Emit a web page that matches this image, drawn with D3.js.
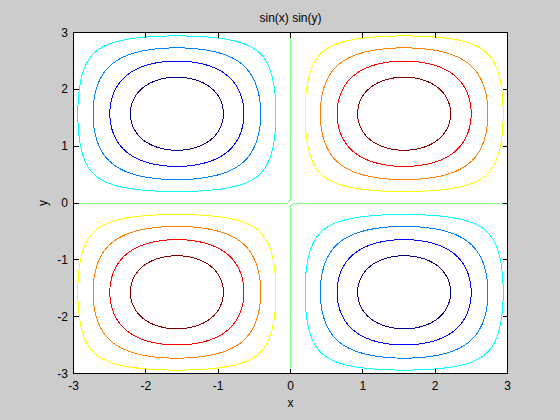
<!DOCTYPE html>
<html>
<head>
<meta charset="utf-8">
<script src="https://cdn.jsdelivr.net/npm/d3@7"></script>
<style>
body { margin: 0; background: #cccccc; }
text { font-family: "Liberation Sans", Arial, sans-serif; fill: #000; }
</style>
</head>
<body>
<svg width="560" height="420"></svg>
<script>
// contour levels and their colours (jet, caxis = level range)
var levels = [-0.8, -0.6, -0.4, -0.2, 0, 0.2, 0.4, 0.6, 0.8];
var levelColors = ["#000080", "#0000ff", "#0080ff", "#00ffff", "#80ff80", "#ffff00", "#ff8000", "#ff0000", "#800000"];
var xTicks = [-3, -2, -1, 0, 1, 2, 3];
var yTicks = [-3, -2, -1, 0, 1, 2, 3];
var titleText = "sin(x) sin(y)";

// grid of z = sin(x) sin(y), as named in the title, x and y in [-3, 3]
var gridN = 121, gridStep = 0.05;
var gridX = d3.range(gridN).map(function(i) { return (i - 60) / 20; });
var gridY = gridX.slice();
var values = [];
gridY.forEach(function(y) {
    gridX.forEach(function(x) {
        values.push(Math.sin(x) * Math.sin(y));
    });
});

var svg = d3.select("svg");

var x = d3.scaleLinear().domain([-3, 3]).range([73.5, 507.5]);
var y = d3.scaleLinear().domain([-3, 3]).range([373.5, 32.5]);

svg.append("rect")
    .attr("x", x(-3)).attr("y", y(3))
    .attr("width", x(3) - x(-3)).attr("height", y(-3) - y(3))
    .attr("fill", "#fff");

svg.append("clipPath").attr("id", "plotclip")
    .append("rect")
    .attr("x", x(-3) - 0.5).attr("y", y(3) - 0.5)
    .attr("width", x(3) - x(-3) + 1).attr("height", y(-3) - y(3) + 1);

var contours = d3.contours().size([gridN, gridN]).thresholds(levels)(values);

// grid coords -> data coords (value k sits at k + 0.5)
function gx(g) { return gridX[0] + (g - 0.5) * gridStep; }
function gy(g) { return gridY[0] + (g - 0.5) * gridStep; }

// turn closed rings into open polylines, dropping the grid border
function ringLines(ring) {
    var lines = [], cur = [];
    ring.forEach(function(p) {
        var inside = p[0] > 0 && p[0] < gridN && p[1] > 0 && p[1] < gridN;
        if (inside) {
            cur.push([x(gx(p[0])), y(gy(p[1]))]);
        } else {
            if (cur.length > 1) lines.push(cur);
            cur = [];
        }
    });
    if (cur.length > 1) lines.push(cur);
    return lines;
}

var line = d3.line();
var plot = svg.append("g").attr("clip-path", "url(#plotclip)");

contours.forEach(function(c, i) {
    var lines = [];
    c.coordinates.forEach(function(poly) {
        poly.forEach(function(ring) {
            lines = lines.concat(ringLines(ring));
        });
    });
    plot.append("g")
        .selectAll("path")
        .data(lines)
        .enter()
        .append("path")
        .attr("d", function(d) { return line(d); })
        .attr("fill", "none")
        .attr("stroke", levelColors[i])
        .attr("stroke-width", 1)
        .attr("shape-rendering", "crispEdges");
});

// axes with inward ticks on all four sides
var tickLen = 5;
var ax = svg.append("g").attr("stroke", "#000").attr("stroke-width", 1).attr("shape-rendering", "crispEdges");
xTicks.forEach(function(t) {
    ax.append("line").attr("x1", x(t)).attr("x2", x(t)).attr("y1", y(-3)).attr("y2", y(-3) - tickLen);
    ax.append("line").attr("x1", x(t)).attr("x2", x(t)).attr("y1", y(3)).attr("y2", y(3) + tickLen);
});
yTicks.forEach(function(t) {
    ax.append("line").attr("y1", y(t)).attr("y2", y(t)).attr("x1", x(-3)).attr("x2", x(-3) + tickLen);
    ax.append("line").attr("y1", y(t)).attr("y2", y(t)).attr("x1", x(3)).attr("x2", x(3) - tickLen);
});
ax.append("rect")
    .attr("x", x(-3)).attr("y", y(3))
    .attr("width", x(3) - x(-3)).attr("height", y(-3) - y(3))
    .attr("fill", "none");

svg.append("g").selectAll("text")
    .data(xTicks)
    .enter()
    .append("text")
    .attr("x", function(d) { return x(d); })
    .attr("y", 390)
    .attr("text-anchor", "middle")
    .attr("font-size", 12)
    .text(function(d) { return d; });

svg.append("g").selectAll("text")
    .data(yTicks)
    .enter()
    .append("text")
    .attr("x", 68)
    .attr("y", function(d) { return y(d) + 4; })
    .attr("text-anchor", "end")
    .attr("font-size", 12)
    .text(function(d) { return d; });

svg.append("text")
    .attr("x", (x(-3) + x(3)) / 2)
    .attr("y", 22)
    .attr("text-anchor", "middle")
    .attr("font-size", 12)
    .text(titleText);

svg.append("text")
    .attr("x", (x(-3) + x(3)) / 2)
    .attr("y", 407)
    .attr("text-anchor", "middle")
    .attr("font-size", 12)
    .text("x");

svg.append("text")
    .attr("transform", "translate(47," + y(0) + ") rotate(-90)")
    .attr("text-anchor", "middle")
    .attr("font-size", 12)
    .text("y");
</script>
</body>
</html>
